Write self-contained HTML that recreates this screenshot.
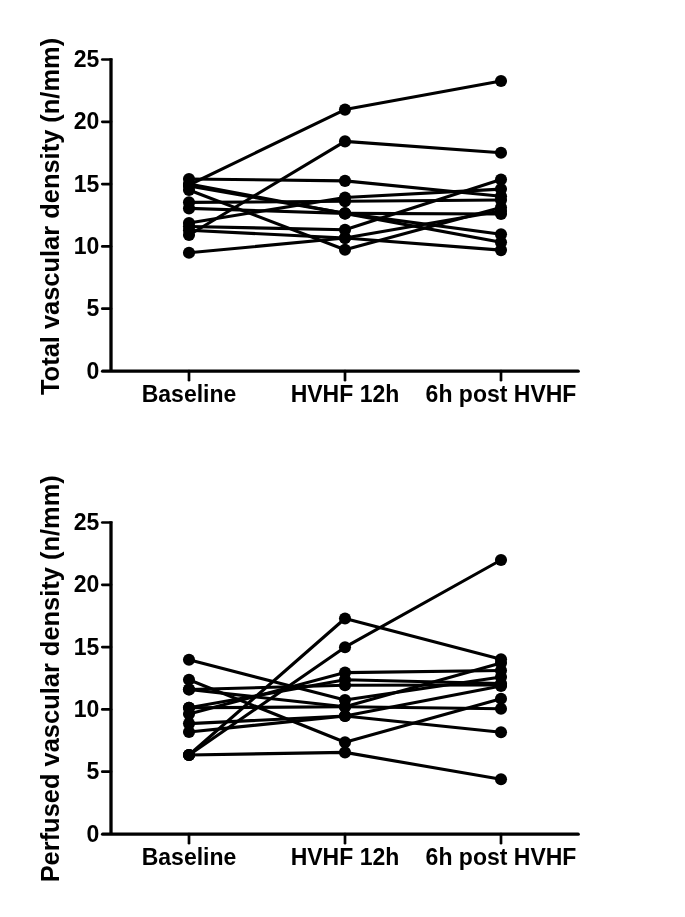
<!DOCTYPE html>
<html><head><meta charset="utf-8"><style>
html,body{margin:0;padding:0;background:#fff;}
svg{display:block;will-change:transform;}
.ln{fill:none;stroke:#000;stroke-width:3.1;stroke-linejoin:round;}
.ax{stroke:#000;stroke-width:3.3;}
.tk{stroke:#000;stroke-width:2.7;stroke-linecap:round;}
.rc{stroke-linecap:round;}
.tl{font-family:"Liberation Sans",sans-serif;font-weight:bold;font-size:23px;fill:#000;}
.tt{font-family:"Liberation Sans",sans-serif;font-weight:bold;font-size:25.45px;fill:#000;}
</style></head><body>
<svg width="685" height="917" viewBox="0 0 685 917">
<rect width="685" height="917" fill="#fff"/>
<g>
<polyline points="189.0,185.0 345.0,109.6 501.0,81.0" class="ln"/>
<polyline points="189.0,179.0 345.0,180.9 501.0,196.3" class="ln"/>
<polyline points="189.0,184.0 345.0,213.4 501.0,214.0" class="ln"/>
<polyline points="189.0,190.0 345.0,249.8 501.0,207.5" class="ln"/>
<polyline points="189.0,235.0 345.0,141.4 501.0,152.7" class="ln"/>
<polyline points="189.0,202.4 345.0,201.3 501.0,200.0" class="ln"/>
<polyline points="189.0,208.4 345.0,213.4 501.0,234.3" class="ln"/>
<polyline points="189.0,223.0 345.0,197.5 501.0,189.1" class="ln"/>
<polyline points="189.0,226.5 345.0,229.8 501.0,179.5" class="ln"/>
<polyline points="189.0,230.3 345.0,238.0 501.0,250.1" class="ln"/>
<polyline points="189.0,252.8 345.0,238.0 501.0,211.0" class="ln"/>
<polyline points="189.0,186.0 345.0,213.4 501.0,242.2" class="ln"/>
<circle cx="189.0" cy="185.0" r="6.05"/>
<circle cx="345.0" cy="109.6" r="6.05"/>
<circle cx="501.0" cy="81.0" r="6.05"/>
<circle cx="189.0" cy="179.0" r="6.05"/>
<circle cx="345.0" cy="180.9" r="6.05"/>
<circle cx="501.0" cy="196.3" r="6.05"/>
<circle cx="189.0" cy="184.0" r="6.05"/>
<circle cx="345.0" cy="213.4" r="6.05"/>
<circle cx="501.0" cy="214.0" r="6.05"/>
<circle cx="189.0" cy="190.0" r="6.05"/>
<circle cx="345.0" cy="249.8" r="6.05"/>
<circle cx="501.0" cy="207.5" r="6.05"/>
<circle cx="189.0" cy="235.0" r="6.05"/>
<circle cx="345.0" cy="141.4" r="6.05"/>
<circle cx="501.0" cy="152.7" r="6.05"/>
<circle cx="189.0" cy="202.4" r="6.05"/>
<circle cx="345.0" cy="201.3" r="6.05"/>
<circle cx="501.0" cy="200.0" r="6.05"/>
<circle cx="189.0" cy="208.4" r="6.05"/>
<circle cx="345.0" cy="213.4" r="6.05"/>
<circle cx="501.0" cy="234.3" r="6.05"/>
<circle cx="189.0" cy="223.0" r="6.05"/>
<circle cx="345.0" cy="197.5" r="6.05"/>
<circle cx="501.0" cy="189.1" r="6.05"/>
<circle cx="189.0" cy="226.5" r="6.05"/>
<circle cx="345.0" cy="229.8" r="6.05"/>
<circle cx="501.0" cy="179.5" r="6.05"/>
<circle cx="189.0" cy="230.3" r="6.05"/>
<circle cx="345.0" cy="238.0" r="6.05"/>
<circle cx="501.0" cy="250.1" r="6.05"/>
<circle cx="189.0" cy="252.8" r="6.05"/>
<circle cx="345.0" cy="238.0" r="6.05"/>
<circle cx="501.0" cy="211.0" r="6.05"/>
<circle cx="189.0" cy="186.0" r="6.05"/>
<circle cx="345.0" cy="213.4" r="6.05"/>
<circle cx="501.0" cy="242.2" r="6.05"/>
<line x1="111.0" y1="58.2" x2="111.0" y2="371.0" class="ax"/>
<line x1="102.6" y1="371.2" x2="578.2" y2="371.2" class="ax rc"/>
<text x="99.4" y="378.60" text-anchor="end" class="tl">0</text>
<line x1="102.3" y1="308.70" x2="111.0" y2="308.70" class="tk"/>
<text x="99.4" y="316.30" text-anchor="end" class="tl">5</text>
<line x1="102.3" y1="246.40" x2="111.0" y2="246.40" class="tk"/>
<text x="99.4" y="254.00" text-anchor="end" class="tl">10</text>
<line x1="102.3" y1="184.10" x2="111.0" y2="184.10" class="tk"/>
<text x="99.4" y="191.70" text-anchor="end" class="tl">15</text>
<line x1="102.3" y1="121.80" x2="111.0" y2="121.80" class="tk"/>
<text x="99.4" y="129.40" text-anchor="end" class="tl">20</text>
<line x1="102.3" y1="59.50" x2="111.0" y2="59.50" class="tk"/>
<text x="99.4" y="67.10" text-anchor="end" class="tl">25</text>
<line x1="189.0" y1="371.0" x2="189.0" y2="380.2" class="tk"/>
<text x="189.0" y="402.20" text-anchor="middle" class="tl">Baseline</text>
<line x1="345.0" y1="371.0" x2="345.0" y2="380.2" class="tk"/>
<text x="345.0" y="402.20" text-anchor="middle" class="tl">HVHF 12h</text>
<line x1="501.0" y1="371.0" x2="501.0" y2="380.2" class="tk"/>
<text x="501.0" y="402.20" text-anchor="middle" class="tl">6h post HVHF</text>
<text transform="translate(58.6 216.45) rotate(-90)" text-anchor="middle" class="tt">Total vascular density (n/mm)</text>
</g>
<g>
<polyline points="189.0,659.8 345.0,700.0 501.0,677.0" class="ln"/>
<polyline points="189.0,679.7 345.0,742.3 501.0,698.8" class="ln"/>
<polyline points="189.0,689.5 345.0,685.3 501.0,685.0" class="ln"/>
<polyline points="189.0,689.5 345.0,706.8 501.0,663.0" class="ln"/>
<polyline points="189.0,707.8 345.0,679.7 501.0,683.5" class="ln"/>
<polyline points="189.0,707.8 345.0,706.8 501.0,708.8" class="ln"/>
<polyline points="189.0,714.0 345.0,672.6 501.0,670.5" class="ln"/>
<polyline points="189.0,723.6 345.0,716.0 501.0,732.2" class="ln"/>
<polyline points="189.0,732.0 345.0,716.0 501.0,686.0" class="ln"/>
<polyline points="189.0,755.0 345.0,618.5 501.0,659.3" class="ln"/>
<polyline points="189.0,755.0 345.0,647.2 501.0,560.0" class="ln"/>
<polyline points="189.0,755.0 345.0,752.4 501.0,779.3" class="ln"/>
<circle cx="189.0" cy="659.8" r="6.05"/>
<circle cx="345.0" cy="700.0" r="6.05"/>
<circle cx="501.0" cy="677.0" r="6.05"/>
<circle cx="189.0" cy="679.7" r="6.05"/>
<circle cx="345.0" cy="742.3" r="6.05"/>
<circle cx="501.0" cy="698.8" r="6.05"/>
<circle cx="189.0" cy="689.5" r="6.05"/>
<circle cx="345.0" cy="685.3" r="6.05"/>
<circle cx="501.0" cy="685.0" r="6.05"/>
<circle cx="189.0" cy="689.5" r="6.05"/>
<circle cx="345.0" cy="706.8" r="6.05"/>
<circle cx="501.0" cy="663.0" r="6.05"/>
<circle cx="189.0" cy="707.8" r="6.05"/>
<circle cx="345.0" cy="679.7" r="6.05"/>
<circle cx="501.0" cy="683.5" r="6.05"/>
<circle cx="189.0" cy="707.8" r="6.05"/>
<circle cx="345.0" cy="706.8" r="6.05"/>
<circle cx="501.0" cy="708.8" r="6.05"/>
<circle cx="189.0" cy="714.0" r="6.05"/>
<circle cx="345.0" cy="672.6" r="6.05"/>
<circle cx="501.0" cy="670.5" r="6.05"/>
<circle cx="189.0" cy="723.6" r="6.05"/>
<circle cx="345.0" cy="716.0" r="6.05"/>
<circle cx="501.0" cy="732.2" r="6.05"/>
<circle cx="189.0" cy="732.0" r="6.05"/>
<circle cx="345.0" cy="716.0" r="6.05"/>
<circle cx="501.0" cy="686.0" r="6.05"/>
<circle cx="189.0" cy="755.0" r="6.05"/>
<circle cx="345.0" cy="618.5" r="6.05"/>
<circle cx="501.0" cy="659.3" r="6.05"/>
<circle cx="189.0" cy="755.0" r="6.05"/>
<circle cx="345.0" cy="647.2" r="6.05"/>
<circle cx="501.0" cy="560.0" r="6.05"/>
<circle cx="189.0" cy="755.0" r="6.05"/>
<circle cx="345.0" cy="752.4" r="6.05"/>
<circle cx="501.0" cy="779.3" r="6.05"/>
<line x1="111.0" y1="521.2" x2="111.0" y2="834.0" class="ax"/>
<line x1="102.6" y1="834.2" x2="578.2" y2="834.2" class="ax rc"/>
<text x="99.4" y="841.60" text-anchor="end" class="tl">0</text>
<line x1="102.3" y1="771.70" x2="111.0" y2="771.70" class="tk"/>
<text x="99.4" y="779.30" text-anchor="end" class="tl">5</text>
<line x1="102.3" y1="709.40" x2="111.0" y2="709.40" class="tk"/>
<text x="99.4" y="717.00" text-anchor="end" class="tl">10</text>
<line x1="102.3" y1="647.10" x2="111.0" y2="647.10" class="tk"/>
<text x="99.4" y="654.70" text-anchor="end" class="tl">15</text>
<line x1="102.3" y1="584.80" x2="111.0" y2="584.80" class="tk"/>
<text x="99.4" y="592.40" text-anchor="end" class="tl">20</text>
<line x1="102.3" y1="522.50" x2="111.0" y2="522.50" class="tk"/>
<text x="99.4" y="530.10" text-anchor="end" class="tl">25</text>
<line x1="189.0" y1="834.0" x2="189.0" y2="843.2" class="tk"/>
<text x="189.0" y="865.20" text-anchor="middle" class="tl">Baseline</text>
<line x1="345.0" y1="834.0" x2="345.0" y2="843.2" class="tk"/>
<text x="345.0" y="865.20" text-anchor="middle" class="tl">HVHF 12h</text>
<line x1="501.0" y1="834.0" x2="501.0" y2="843.2" class="tk"/>
<text x="501.0" y="865.20" text-anchor="middle" class="tl">6h post HVHF</text>
<text transform="translate(58.6 678.80) rotate(-90)" text-anchor="middle" class="tt">Perfused vascular density (n/mm)</text>
</g>
</svg>
</body></html>
